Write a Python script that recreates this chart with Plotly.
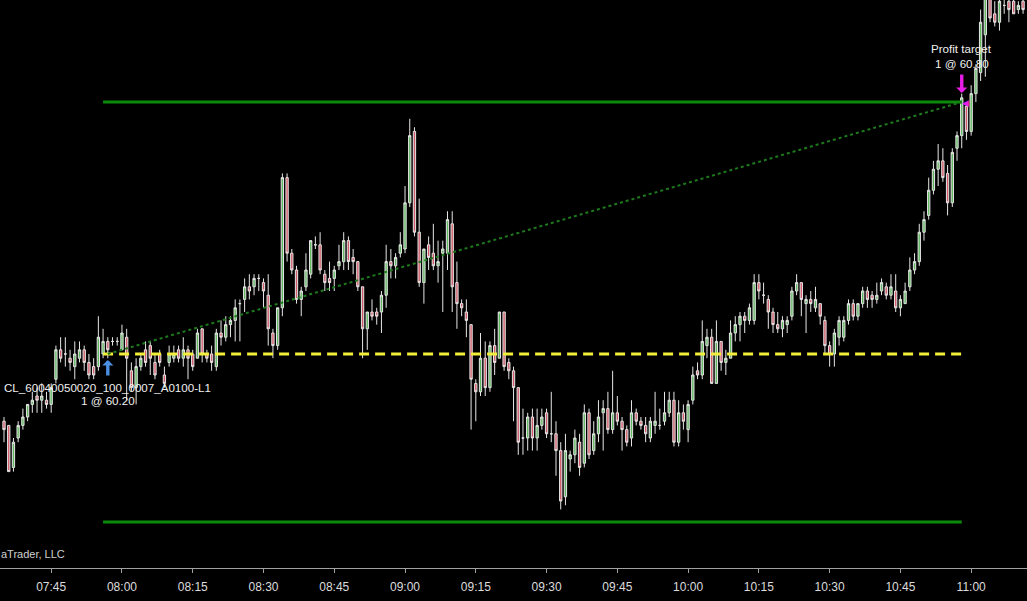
import pandas as pd
import plotly.graph_objects as go

# ---------------- data (1-minute CL bars, 07:35 -> 11:11) ----------------
start_time = "2019-06-20 07:35"

opens = [
    60.04, 60.03, 59.93, 60.00, 60.03, 60.05, 60.08, 60.10, 60.09, 60.09,
    60.08, 60.14, 60.21, 60.20, 60.19, 60.17, 60.19, 60.21, 60.18, 60.17,
    60.17, 60.20, 60.23, 60.23, 60.23, 60.21, 60.24, 60.16, 60.12, 60.17,
    60.21, 60.22, 60.18, 60.20, 60.15, 60.18, 60.19, 60.21, 60.19, 60.21,
    60.20, 60.19, 60.26, 60.20, 60.20, 60.17, 60.25, 60.24, 60.27, 60.28,
    60.32, 60.33, 60.36, 60.36, 60.38, 60.37, 60.34, 60.25, 60.22, 60.31,
    60.62, 60.44, 60.40, 60.33, 60.36, 60.39, 60.46, 60.46, 60.39, 60.38,
    60.38, 60.41, 60.42, 60.47, 60.43, 60.42, 60.36, 60.26, 60.30, 60.30,
    60.30, 60.34, 60.42, 60.41, 60.44, 60.45, 60.56, 60.73, 60.49, 60.37,
    60.46, 60.44, 60.41, 60.44, 60.44, 60.51, 60.37, 60.32, 60.30, 60.27,
    60.13, 60.11, 60.19, 60.12, 60.22, 60.19, 60.30, 60.18, 60.16, 60.12,
    60.00, 60.00, 60.05, 60.00, 60.03, 60.06, 60.01, 60.01, 59.97, 59.86,
    59.95, 59.96, 59.99, 59.94, 60.06, 59.97, 60.01, 60.06, 60.07, 60.02,
    60.06, 60.04, 60.02, 60.00, 60.06, 60.04, 60.03, 60.00, 60.03, 60.03,
    60.04, 60.06, 60.09, 59.99, 60.06, 60.02, 60.09, 60.16, 60.15, 60.22,
    60.24, 60.13, 60.23, 60.18, 60.19, 60.25, 60.27, 60.29, 60.28, 60.28,
    60.37, 60.34, 60.33, 60.30, 60.27, 60.26, 60.27, 60.29, 60.35, 60.37,
    60.32, 60.33, 60.31, 60.32, 60.28, 60.22, 60.20, 60.24, 60.24, 60.28,
    60.32, 60.29, 60.32, 60.35, 60.34, 60.33, 60.35, 60.36, 60.34, 60.35,
    60.31, 60.32, 60.36, 60.40, 60.42, 60.49, 60.53, 60.59, 60.64, 60.66,
    60.63, 60.56, 60.69, 60.72, 60.79, 60.73, 60.82, 60.87, 60.96, 61.05,
    61.01, 60.99, 61.03, 61.04, 61.04, 61.02, 61.04,
]
highs = [
    60.05, 60.03, 60.00, 60.04, 60.07, 60.08, 60.11, 60.12, 60.13, 60.11,
    60.13, 60.22, 60.24, 60.24, 60.21, 60.23, 60.23, 60.22, 60.20, 60.19,
    60.29, 60.26, 60.24, 60.24, 60.24, 60.27, 60.26, 60.18, 60.19, 60.20,
    60.23, 60.23, 60.20, 60.21, 60.17, 60.22, 60.22, 60.22, 60.24, 60.22,
    60.21, 60.26, 60.26, 60.21, 60.22, 60.26, 60.28, 60.29, 60.29, 60.33,
    60.33, 60.38, 60.39, 60.39, 60.39, 60.38, 60.39, 60.26, 60.31, 60.63,
    60.63, 60.45, 60.41, 60.36, 60.44, 60.47, 60.48, 60.49, 60.40, 60.42,
    60.41, 60.46, 60.49, 60.48, 60.45, 60.42, 60.36, 60.30, 60.33, 60.31,
    60.35, 60.46, 60.45, 60.44, 60.49, 60.60, 60.76, 60.74, 60.57, 60.45,
    60.48, 60.51, 60.47, 60.47, 60.54, 60.54, 60.42, 60.33, 60.33, 60.27,
    60.14, 60.25, 60.23, 60.23, 60.26, 60.30, 60.30, 60.19, 60.17, 60.12,
    60.07, 60.06, 60.07, 60.07, 60.07, 60.07, 60.11, 60.04, 59.99, 60.01,
    59.97, 60.02, 60.01, 60.08, 60.07, 60.04, 60.09, 60.09, 60.11, 60.16,
    60.10, 60.05, 60.03, 60.09, 60.07, 60.05, 60.05, 60.05, 60.11, 60.07,
    60.11, 60.11, 60.11, 60.09, 60.08, 60.09, 60.17, 60.18, 60.28, 60.26,
    60.26, 60.28, 60.23, 60.21, 60.28, 60.29, 60.30, 60.30, 60.32, 60.39,
    60.39, 60.37, 60.34, 60.31, 60.30, 60.29, 60.29, 60.36, 60.39, 60.37,
    60.34, 60.35, 60.36, 60.32, 60.29, 60.23, 60.26, 60.29, 60.29, 60.33,
    60.33, 60.32, 60.36, 60.36, 60.35, 60.37, 60.38, 60.37, 60.39, 60.39,
    60.34, 60.37, 60.43, 60.44, 60.51, 60.54, 60.62, 60.66, 60.70, 60.69,
    60.65, 60.69, 60.73, 60.82, 60.80, 60.84, 60.89, 61.02, 61.09, 61.08,
    61.04, 61.07, 61.05, 61.07, 61.06, 61.04, 61.05,
]
lows = [
    59.99, 59.92, 59.92, 59.99, 60.02, 60.04, 60.06, 60.06, 60.06, 60.07,
    60.06, 60.13, 60.18, 60.17, 60.16, 60.14, 60.18, 60.16, 60.14, 60.14,
    60.16, 60.19, 60.19, 60.22, 60.22, 60.21, 60.09, 60.11, 60.08, 60.16,
    60.17, 60.15, 60.14, 60.17, 60.12, 60.17, 60.18, 60.18, 60.17, 60.14,
    60.16, 60.19, 60.18, 60.18, 60.16, 60.16, 60.22, 60.23, 60.24, 60.23,
    60.23, 60.30, 60.33, 60.34, 60.35, 60.31, 60.22, 60.19, 60.21, 60.29,
    60.42, 60.39, 60.32, 60.29, 60.35, 60.38, 60.45, 60.39, 60.35, 60.35,
    60.35, 60.40, 60.40, 60.40, 60.39, 60.35, 60.19, 60.21, 60.28, 60.27,
    60.25, 60.31, 60.38, 60.38, 60.43, 60.44, 60.55, 60.48, 60.36, 60.32,
    60.40, 60.40, 60.37, 60.30, 60.40, 60.30, 60.26, 60.29, 60.24, 60.02,
    60.04, 60.10, 60.10, 60.11, 60.15, 60.19, 60.16, 60.14, 60.04, 59.96,
    59.96, 59.97, 59.97, 59.97, 60.02, 60.00, 59.99, 59.91, 59.83, 59.84,
    59.92, 59.94, 59.91, 59.93, 59.95, 59.96, 59.99, 59.97, 60.01, 60.01,
    60.03, 59.97, 59.98, 59.98, 60.03, 60.02, 59.99, 59.99, 60.01, 60.02,
    60.03, 60.05, 59.98, 59.98, 60.02, 59.99, 60.08, 60.14, 60.14, 60.19,
    60.13, 60.13, 60.16, 60.15, 60.19, 60.23, 60.23, 60.25, 60.27, 60.27,
    60.33, 60.32, 60.26, 60.25, 60.25, 60.24, 60.25, 60.28, 60.34, 60.29,
    60.25, 60.30, 60.30, 60.27, 60.20, 60.17, 60.17, 60.22, 60.23, 60.27,
    60.28, 60.28, 60.31, 60.31, 60.31, 60.32, 60.34, 60.33, 60.33, 60.30,
    60.29, 60.32, 60.35, 60.39, 60.41, 60.47, 60.52, 60.58, 60.60, 60.61,
    60.53, 60.55, 60.66, 60.69, 60.71, 60.72, 60.80, 60.85, 60.86, 60.99,
    60.98, 60.97, 61.01, 60.99, 61.01, 61.01, 61.01,
]
closes = [
    60.02, 59.92, 59.99, 60.03, 60.05, 60.08, 60.09, 60.09, 60.10, 60.08,
    60.12, 60.21, 60.19, 60.20, 60.18, 60.20, 60.21, 60.18, 60.15, 60.15,
    60.24, 60.23, 60.21, 60.23, 60.23, 60.25, 60.19, 60.12, 60.17, 60.19,
    60.18, 60.19, 60.15, 60.18, 60.13, 60.20, 60.20, 60.19, 60.21, 60.19,
    60.17, 60.25, 60.20, 60.19, 60.18, 60.25, 60.24, 60.27, 60.28, 60.31,
    60.32, 60.36, 60.35, 60.38, 60.38, 60.35, 60.26, 60.22, 60.31, 60.62,
    60.44, 60.40, 60.33, 60.35, 60.40, 60.47, 60.46, 60.40, 60.37, 60.37,
    60.40, 60.42, 60.47, 60.42, 60.42, 60.36, 60.26, 60.30, 60.29, 60.29,
    60.34, 60.42, 60.41, 60.43, 60.46, 60.56, 60.72, 60.49, 60.37, 60.45,
    60.43, 60.41, 60.42, 60.45, 60.52, 60.36, 60.32, 60.31, 60.28, 60.14,
    60.11, 60.19, 60.12, 60.22, 60.18, 60.30, 60.17, 60.16, 60.12, 59.99,
    60.00, 60.05, 60.00, 60.03, 60.05, 60.01, 60.01, 59.97, 59.85, 59.97,
    59.96, 60.00, 59.93, 60.06, 59.96, 60.01, 60.05, 60.07, 60.02, 60.06,
    60.04, 60.02, 59.99, 60.06, 60.04, 60.03, 60.01, 60.04, 60.04, 60.03,
    60.06, 60.09, 59.99, 60.06, 60.04, 60.08, 60.15, 60.15, 60.23, 60.24,
    60.13, 60.23, 60.18, 60.19, 60.25, 60.27, 60.29, 60.28, 60.31, 60.37,
    60.35, 60.34, 60.30, 60.27, 60.26, 60.28, 60.28, 60.35, 60.37, 60.33,
    60.33, 60.32, 60.33, 60.29, 60.22, 60.20, 60.25, 60.28, 60.28, 60.32,
    60.29, 60.32, 60.35, 60.33, 60.33, 60.34, 60.37, 60.34, 60.36, 60.31,
    60.33, 60.35, 60.40, 60.42, 60.49, 60.52, 60.59, 60.64, 60.66, 60.62,
    60.56, 60.68, 60.72, 60.81, 60.73, 60.82, 60.88, 60.99, 61.06, 61.00,
    60.99, 61.04, 61.03, 61.02, 61.01, 61.03, 61.02,
]

# trade / order levels
entry_time = "2019-06-20 07:57"
exit_time = "2019-06-20 10:58"
level_start = "2019-06-20 07:56"
level_end = "2019-06-20 10:58"
entry_price = 60.20
target_price = 60.80
stop_price = 59.80
entry_name = "CL_60040050020_100_0007_A0100-L1"
entry_text = "1 @ 60.20"
exit_name = "Profit target"
exit_text = "1 @ 60.80"
watermark = "aTrader, LLC"

times = pd.date_range(start_time, periods=len(closes), freq="1min")

# ---------------- figure ----------------
fig = go.Figure()

fig.add_trace(go.Candlestick(
    x=times, open=opens, high=highs, low=lows, close=closes,
    increasing=dict(line=dict(color="#e6e6e6", width=1), fillcolor="#5fb85f"),
    decreasing=dict(line=dict(color="#e6e6e6", width=1), fillcolor="#d25a68"),
    whiskerwidth=0, showlegend=False, hoverinfo="skip",
))

# stop / target lines
for price in (target_price, stop_price):
    fig.add_trace(go.Scatter(
        x=[level_start, level_end], y=[price, price], mode="lines",
        line=dict(color="#0b8a0b", width=3), showlegend=False, hoverinfo="skip",
    ))
# entry (average price) line
fig.add_trace(go.Scatter(
    x=[level_start, level_end], y=[entry_price, entry_price], mode="lines",
    line=dict(color="#f2ee3a", width=3, dash="10px,6px"), showlegend=False, hoverinfo="skip",
))
# trade connector (dotted)
fig.add_trace(go.Scatter(
    x=[entry_time, exit_time], y=[entry_price, target_price], mode="lines",
    line=dict(color="#1d7a1d", width=2, dash="dot"), showlegend=False, hoverinfo="skip",
))

font_txt = dict(family="Liberation Sans, Arial, sans-serif", size=11.6, color="#f0f0f0")

annotations = [
    # entry arrow (blue, pointing up)
    dict(x=entry_time, y=entry_price, xref="x", yref="y", text="", showarrow=True,
         ax=0, ay=23, standoff=6, arrowhead=1, arrowsize=0.55, arrowwidth=3.4,
         arrowcolor="#4a8fe0"),
    dict(x=entry_time, y=entry_price, xref="x", yref="y", text=entry_name,
         showarrow=False, yanchor="middle", yshift=-33, font=font_txt),
    dict(x=entry_time, y=entry_price, xref="x", yref="y", text=entry_text,
         showarrow=False, yanchor="middle", yshift=-46, font=font_txt),
    # exit arrow (magenta, pointing down)
    dict(x=exit_time, y=target_price, xref="x", yref="y", text="", showarrow=True,
         ax=0, ay=-29, standoff=9, arrowhead=1, arrowsize=0.55, arrowwidth=3.4,
         arrowcolor="#e81ee8"),
    dict(x=exit_time, y=target_price, xref="x", yref="y", text=exit_name,
         showarrow=False, yanchor="middle", yshift=54, font=font_txt),
    dict(x=exit_time, y=target_price, xref="x", yref="y", text=exit_text,
         showarrow=False, yanchor="middle", yshift=39, font=font_txt),
    # execution marker
    dict(x=exit_time, y=target_price, xref="x", yref="y", text="◀",
         showarrow=False, xshift=4, font=dict(size=9, color="#e81ee8")),
    # watermark
    dict(x=0, y=0.0246, xref="paper", yref="paper", text=watermark, showarrow=False,
         xanchor="left", yanchor="middle", xshift=-1,
         font=dict(family="Liberation Sans, Arial, sans-serif", size=11, color="#d0d0d0")),
]

fig.update_layout(
    width=1027, height=601,
    margin=dict(l=0, r=0, t=0, b=33),
    paper_bgcolor="black", plot_bgcolor="black",
    annotations=annotations,
    xaxis=dict(
        type="date",
        range=["2019-06-20 07:34:09", "2019-06-20 11:11:50"],
        rangeslider=dict(visible=False),
        showgrid=False, zeroline=False,
        tick0="2019-06-20 07:45", dtick=15 * 60 * 1000, tickformat="%H:%M",
        tickfont=dict(family="Liberation Sans, Arial, sans-serif", size=12, color="#dcdcdc"),
        showline=True, linecolor="#a0a0a0", linewidth=1,
        ticks="outside", ticklen=4, tickcolor="#a0a0a0",
        ticklabelstandoff=4,
    ),
    yaxis=dict(
        range=[59.6905, 61.0429],
        showgrid=False, zeroline=False, showticklabels=False, showline=False,
    ),
)

fig.write_html(
    "out.html",
    config={"displayModeBar": False},
    post_script="document.body.style.margin='0';document.body.style.overflow='hidden';",
)
